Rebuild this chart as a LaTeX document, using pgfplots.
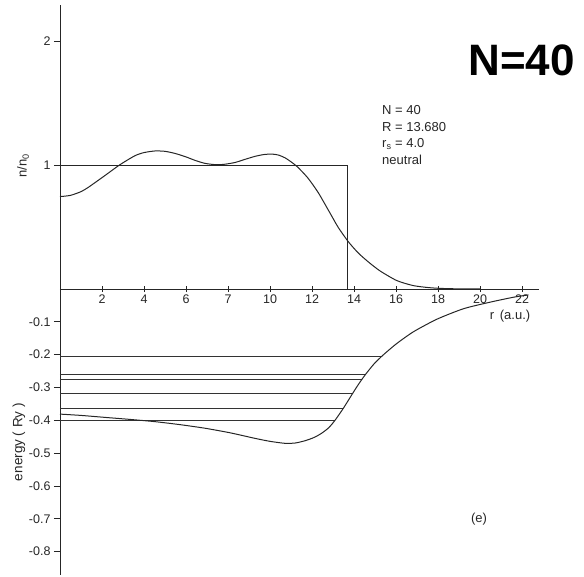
\documentclass[border=0pt]{standalone}
\usepackage{fontspec}
\setmainfont{Liberation Sans}
\usepackage{pgfplots}
\pgfplotsset{compat=1.18}
\pgfplotstableread{
x n
0 0.745
0.5 0.755
1.0 0.785
1.35 0.820
2.14 0.915
2.86 1.003
3.57 1.075
4.0 1.100
4.52 1.113
5.0 1.110
5.48 1.093
6.0 1.065
6.43 1.037
6.9 1.013
7.38 1.003
7.8 1.005
8.33 1.020
8.8 1.045
9.29 1.070
9.7 1.084
10.08 1.088
10.4 1.080
10.71 1.058
11.0 1.025
11.3 0.985
11.8 0.895
12.3 0.775
12.86 0.610
13.25 0.495
13.73 0.380
14.2 0.290
14.7 0.215
15.24 0.145
16.03 0.068
16.8 0.028
17.5 0.012
18.1 0.005
19 0.001
20 0.0
}\density
\pgfplotstableread{
x v
0 -0.381
1 -0.385
2.14 -0.391
3.3 -0.397
4.52 -0.404
5.7 -0.413
6.9 -0.424
8.1 -0.438
9.29 -0.455
10.0 -0.464
10.71 -0.470
11.2 -0.469
11.67 -0.462
12.1 -0.452
12.46 -0.439
12.8 -0.422
13.1 -0.399
13.49 -0.363
13.9 -0.321
14.2 -0.291
14.52 -0.262
14.95 -0.228
15.4 -0.200
16.03 -0.166
16.83 -0.130
17.94 -0.092
19.21 -0.060
20.48 -0.040
21.59 -0.025
22.3 -0.018
}\potential
\begin{document}
\begin{tikzpicture}[x=1pt,y=1pt]
\useasboundingbox (0,0) rectangle (584,-577);
\begin{axis}[
  at={(60pt,-289pt)}, anchor=south west, scale only axis,
  width=479pt, height=284pt,
  xmin=0, xmax=22.8, ymin=0, ymax=2.29,
  axis x line=bottom, axis y line=left,
  axis line style={-, line width=0.8pt, black!85},
  xtick={2,4,...,22}, xticklabels={2,4,6,7,10,12,14,16,18,20,22},
  ytick={1,2}, yticklabels={1,2},
  xtick align=center, ytick align=outside,
  major tick length=6pt,
  every tick/.style={black!85, line width=0.7pt},
  tick label style={font=\fontsize{12.5}{14}\selectfont, black!85},
  xticklabel style={yshift=1pt},
  clip=false,
]
\addplot[black!85, line width=0.7pt] coordinates {(0,1) (13.68,1) (13.68,0)};
\addplot[black!85, line width=1pt, smooth, tension=0.4] table[x=x,y=n] {\density};
\end{axis}
\begin{axis}[
  at={(60pt,-289pt)}, anchor=north west, scale only axis,
  width=479pt, height=286pt,
  xmin=0, xmax=22.8, ymin=-0.871, ymax=0,
  axis x line=none, axis y line=left,
  axis line style={-, line width=0.8pt, black!85},
  ytick={-0.1,-0.2,-0.3,-0.4,-0.5,-0.6,-0.7,-0.8},
  yticklabels={-0.1,-0.2,-0.3,-0.4,-0.5,-0.6,-0.7,-0.8},
  ytick align=outside, major tick length=6pt,
  every tick/.style={black!85, line width=0.7pt},
  tick label style={font=\fontsize{12.5}{14}\selectfont, black!85},
  clip=false,
]
\addplot[black!80, line width=0.7pt] coordinates {(0,-0.204) (15.33,-0.204)};
\addplot[black!80, line width=0.7pt] coordinates {(0,-0.261) (14.53,-0.261)};
\addplot[black!80, line width=0.7pt] coordinates {(0,-0.274) (14.38,-0.274)};
\addplot[black!80, line width=0.7pt] coordinates {(0,-0.319) (13.9,-0.319)};
\addplot[black!80, line width=0.7pt] coordinates {(0,-0.364) (13.48,-0.364)};
\addplot[black!80, line width=0.7pt] coordinates {(0,-0.399) (13.1,-0.399)};
\addplot[black!85, line width=1pt, smooth, tension=0.4] table[x=x,y=v] {\potential};
\end{axis}
\node[rotate=90, font=\fontsize{13}{15}\selectfont, black!85] at (23,-166) {n/n\textsubscript{0}};
\node[rotate=90, font=\fontsize{13.5}{15}\selectfont, black!85] at (19,-442) {energy ( Ry )};
\node[font=\fontsize{13}{15}\selectfont, black!85] at (510,-316) {r \,(a.u.)};
\node[font=\fontsize{13}{15}\selectfont, black!85] at (479,-519) {(e)};
\node[anchor=base east, font=\fontsize{44}{48}\selectfont\bfseries, inner sep=0pt] at (575,-76) {N=40};
\begin{scope}[every node/.style={anchor=base west, inner sep=0pt, font=\fontsize{13}{15}\selectfont, text=black!85}]
\node at (382,-115) {N = 40};
\node at (382,-132) {R = 13.680};
\node at (382,-148) {r\textsubscript{s} = 4.0};
\node at (382,-165) {neutral};
\end{scope}
\end{tikzpicture}
\end{document}
